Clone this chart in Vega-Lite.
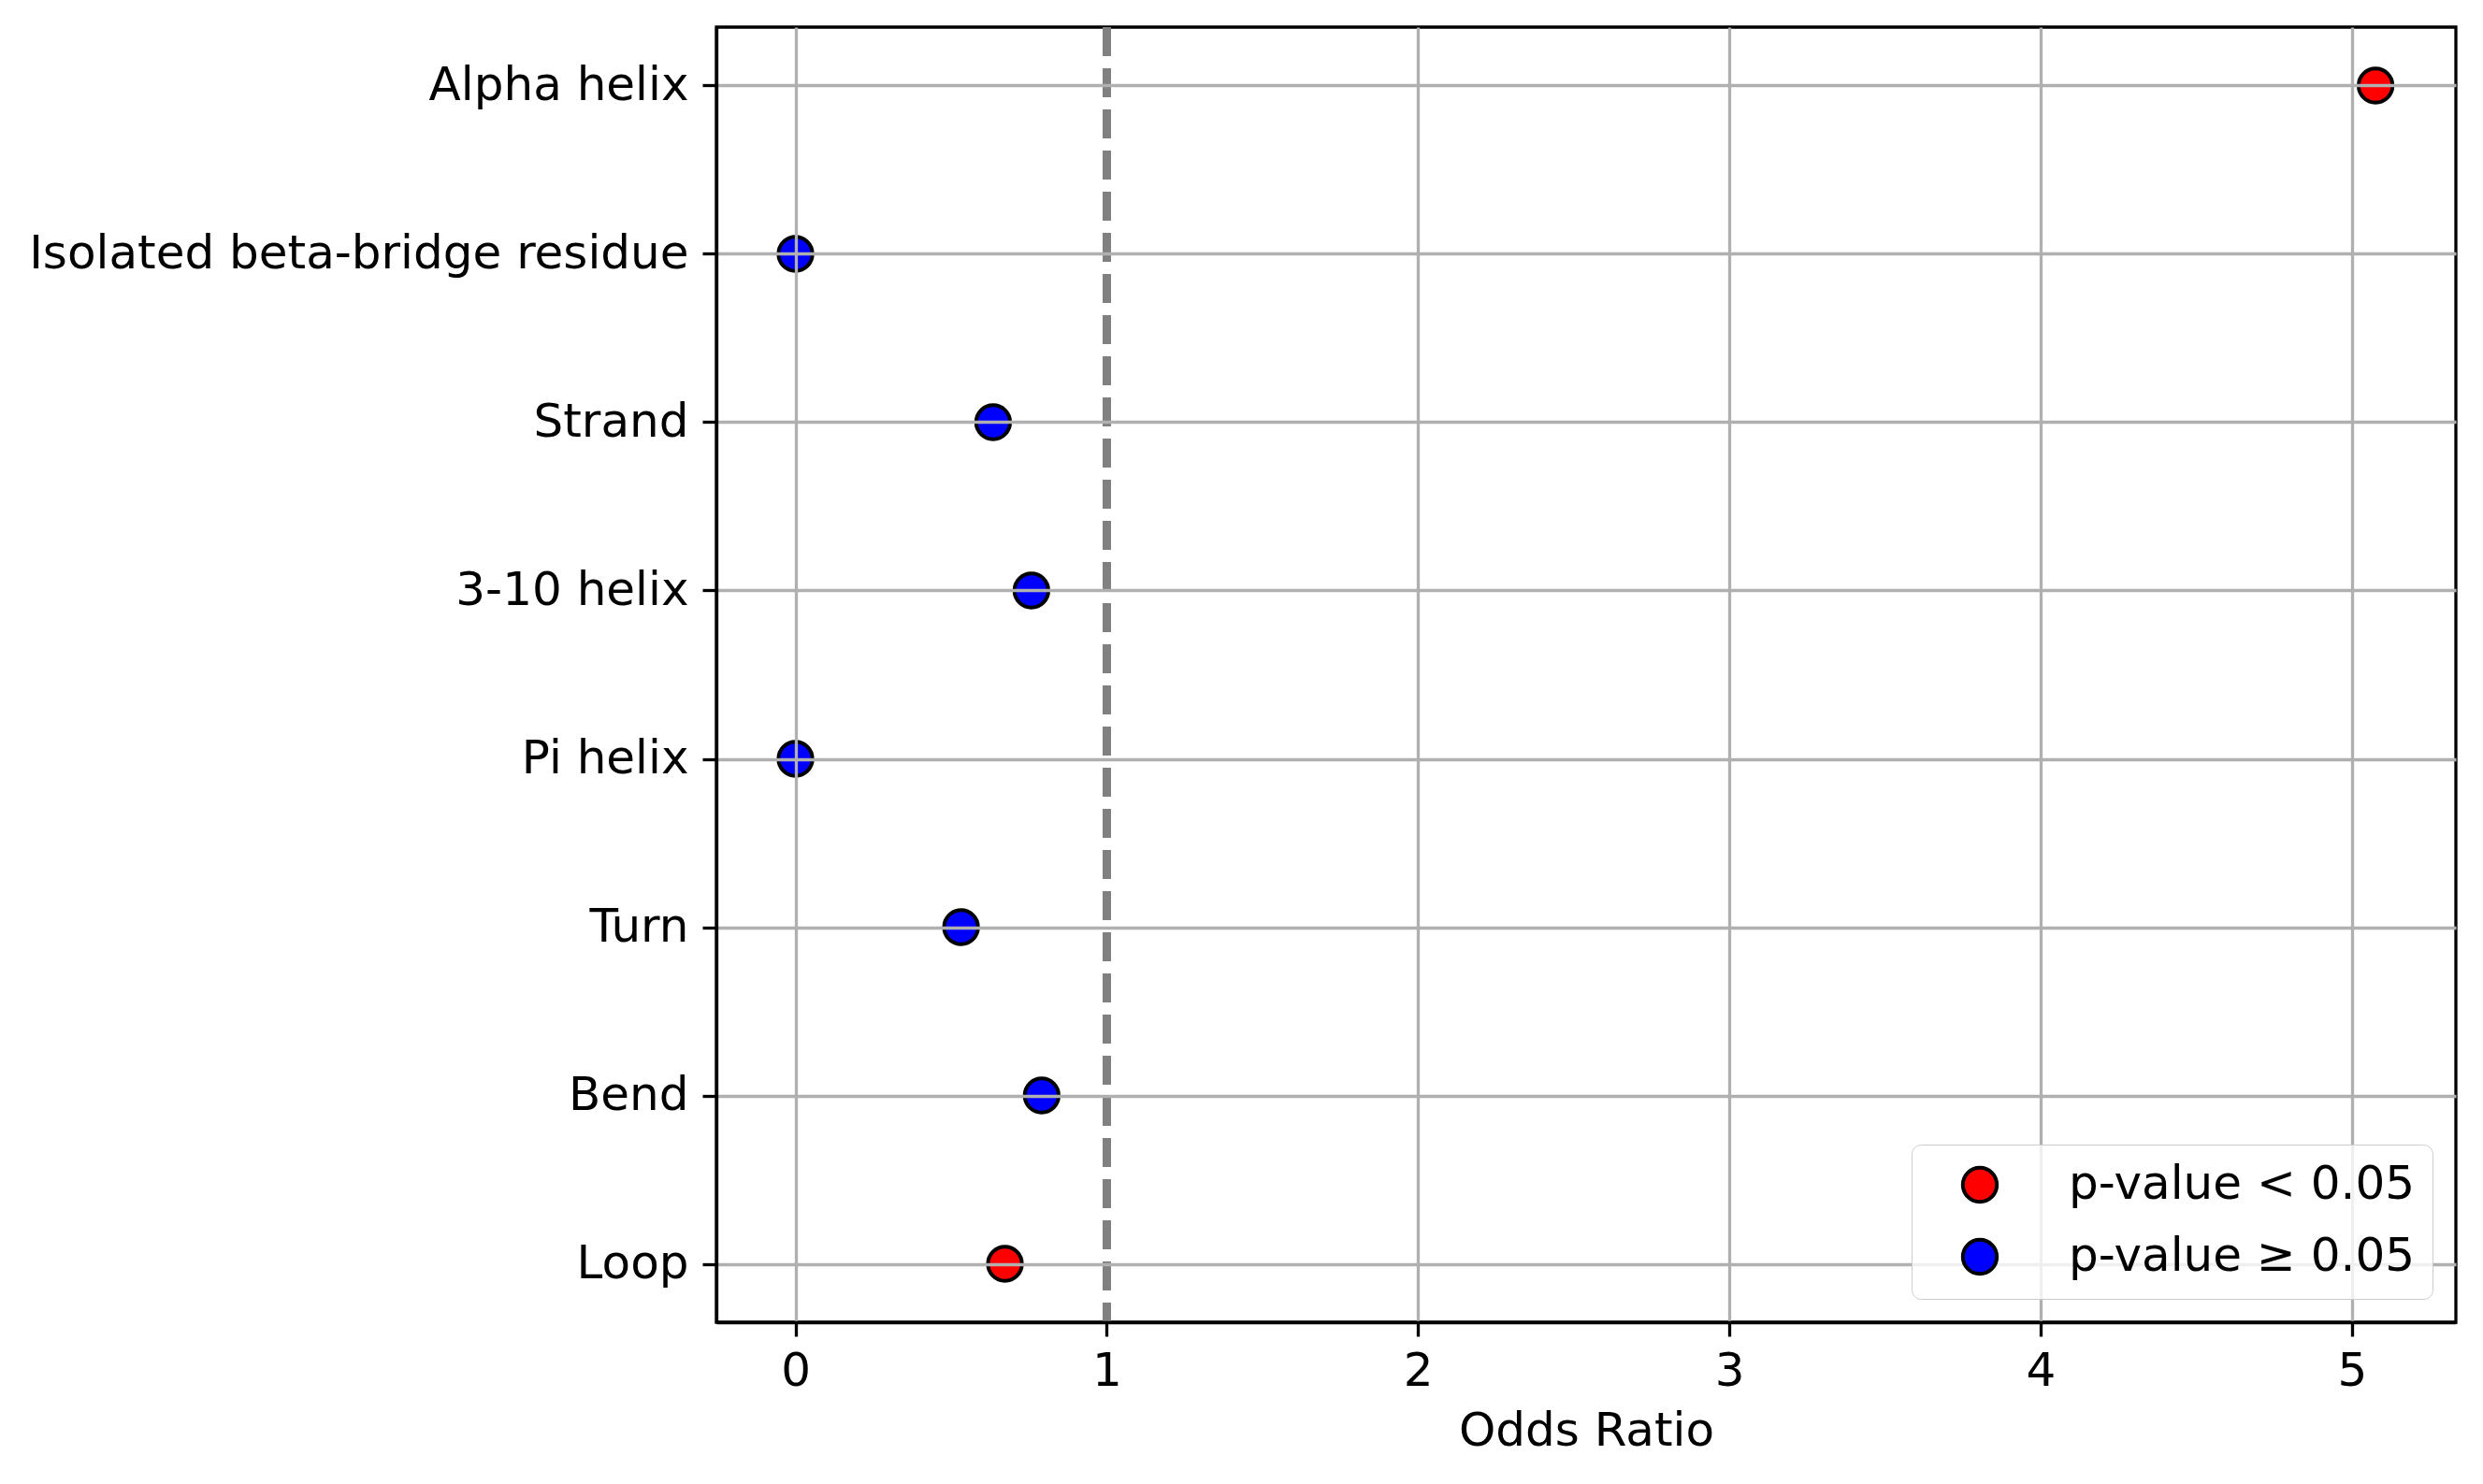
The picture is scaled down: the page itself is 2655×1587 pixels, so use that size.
{
  "$schema": "https://vega.github.io/schema/vega-lite/v6.json",
  "width": 1860,
  "height": 1385,
  "autosize": {"type": "none"},
  "padding": {"left": 766, "top": 29, "right": 29, "bottom": 173},
  "background": "white",
  "config": {
    "font": "DejaVu Sans",
    "view": {"stroke": "black", "strokeWidth": 3.3},
    "axis": {
      "labelFontSize": 50,
      "labelColor": "black",
      "labelLimit": 0,
      "titleFontSize": 50,
      "titleFontWeight": "normal",
      "titleColor": "black",
      "domainColor": "black",
      "domainWidth": 3.3,
      "tickColor": "black",
      "tickWidth": 3.3,
      "tickSize": 15,
      "grid": true,
      "gridColor": "#b0b0b0",
      "gridWidth": 3.3
    }
  },
  "data": {
    "values": [
      {"structure": "Alpha helix", "odds_ratio": 5.076, "significance": "p-value < 0.05"},
      {"structure": "Isolated beta-bridge residue", "odds_ratio": 0, "significance": "p-value ≥ 0.05"},
      {"structure": "Strand", "odds_ratio": 0.635, "significance": "p-value ≥ 0.05"},
      {"structure": "3-10 helix", "odds_ratio": 0.758, "significance": "p-value ≥ 0.05"},
      {"structure": "Pi helix", "odds_ratio": 0, "significance": "p-value ≥ 0.05"},
      {"structure": "Turn", "odds_ratio": 0.532, "significance": "p-value ≥ 0.05"},
      {"structure": "Bend", "odds_ratio": 0.791, "significance": "p-value ≥ 0.05"},
      {"structure": "Loop", "odds_ratio": 0.673, "significance": "p-value < 0.05"}
    ]
  },
  "layer": [
    {
      "mark": {"type": "rule", "color": "gray", "strokeWidth": 8, "strokeDash": [31, 13]},
      "encoding": {"x": {"datum": 1}}
    },
    {
      "mark": {"type": "point", "shape": "circle", "filled": true, "size": 1320, "stroke": "black", "strokeWidth": 4, "opacity": 1},
      "encoding": {
        "x": {
          "field": "odds_ratio",
          "type": "quantitative",
          "scale": {"domain": [-0.254, 5.334], "nice": false, "zero": false},
          "axis": {
            "values": [0, 1, 2, 3, 4, 5],
            "format": "d",
            "title": "Odds Ratio",
            "labelPadding": 12,
            "titlePadding": 14,
            "grid": true,
            "gridOpacity": {"condition": {"test": "datum.value === 1", "value": 0}, "value": 1},
            "zindex": 1
          }
        },
        "y": {
          "field": "structure",
          "type": "nominal",
          "sort": null,
          "scale": {"type": "point", "padding": 0.347},
          "axis": {"title": null, "labelPadding": 15, "grid": true, "zindex": 1}
        },
        "fill": {
          "field": "significance",
          "type": "nominal",
          "scale": {"domain": ["p-value < 0.05", "p-value ≥ 0.05"], "range": ["red", "blue"]},
          "legend": {
            "title": null,
            "orient": "bottom-right",
            "offset": 25,
            "padding": 18,
            "symbolOffset": 30,
            "symbolType": "circle",
            "symbolSize": 1320,
            "symbolStrokeColor": "black",
            "symbolStrokeWidth": 4,
            "symbolOpacity": 1,
            "labelFontSize": 50,
            "labelColor": "black",
            "labelLimit": 0,
            "labelOffset": 70,
            "rowPadding": 23,
            "fillColor": "rgba(255,255,255,0.8)",
            "strokeColor": "#cccccc",
            "cornerRadius": 10,
            "zindex": 2
          }
        }
      }
    }
  ]
}
